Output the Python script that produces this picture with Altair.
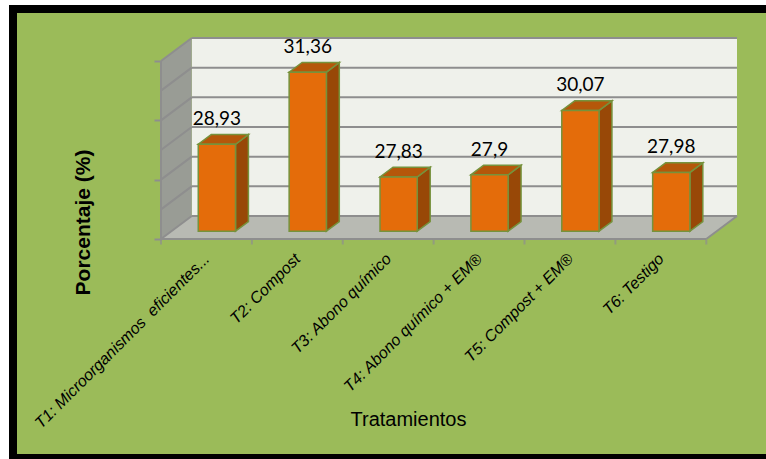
import json
import altair as alt
import pandas as pd

# ---- data ----
categories = [
    "T1: Microorganismos\u00a0 eficientes...",
    "T2: Compost",
    "T3: Abono químico",
    "T4: Abono químico + EM®",
    "T5: Compost + EM®",
    "T6: Testigo",
]
values = [28.93, 31.36, 27.83, 27.90, 30.07, 27.98]
value_labels = ["28,93", "31,36", "27,83", "27,9", "30,07", "27,98"]
y_min, y_max = 26, 32
y_ticks = [26, 27, 28, 29, 30, 31, 32]

# ---- 3D geometry (in data units) ----
N = len(categories)
DX = 0.338   # depth shift along x (category units)
DY = 0.775   # depth shift along y (value units)
D0, D1 = 0.34, 0.76   # bar front/back depth fractions
BW = 0.41              # bar face width
W, H = 576, 201

GREEN = "#9BBB59"
WALL = "#EFF1EB"
SIDE = "#999C95"
FLOOR = "#B8BAB3"
GRID = "#8E8E8E"
FRONT = "#E46C0A"
DARK = "#984807"
TOP = "#B5570A"
EDGE = "#76923C"

xs = alt.Scale(domain=[0, N + DX], nice=False, zero=False)
ys = alt.Scale(domain=[y_min, y_max + DY], nice=False, zero=False)

bars = pd.DataFrame({"cat": categories, "value": values, "i": range(N), "label": value_labels})
bars["xl"] = bars["i"] + (1 - BW) / 2 + D0 * DX
bars["xr"] = bars["xl"] + BW
bars["yb"] = y_min + D0 * DY
bars["yt"] = bars["value"] + D0 * DY
bars["xc"] = bars["i"] + 0.5 + D0 * DX

side_rows, top_rows = [], []
for _, r in bars.iterrows():
    for d in (D0, D1):
        s = (d - D0)
        side_rows.append({"id": r["i"], "x": r["xr"] + s * DX,
                          "y": y_min + d * DY, "y2": r["value"] + d * DY})
        top_rows.append({"id": r["i"], "y": r["value"] + d * DY,
                         "x": r["xl"] + s * DX, "x2": r["xr"] + s * DX})
side_df = pd.DataFrame(side_rows)
top_df = pd.DataFrame(top_rows)

# walls
back = pd.DataFrame({"x": [DX], "x2": [N + DX], "y": [y_min + DY], "y2": [y_max + DY]})
sidewall = pd.DataFrame({"x": [0, DX], "y": [y_min, y_min + DY], "y2": [y_max, y_max + DY]})
floor = pd.DataFrame({"y": [y_min, y_min + DY], "x": [0, DX], "x2": [N, N + DX]})

grid_back = pd.DataFrame({"x": DX, "x2": N + DX, "y": [t + DY for t in y_ticks]})
grid_diag = pd.DataFrame({"x": 0.0, "x2": DX, "y": y_ticks, "y2": [t + DY for t in y_ticks]})
edges = pd.DataFrame({
    "x": [0, 0, N],
    "x2": [0, N, N + DX],
    "y": [y_min, y_min, y_min],
    "y2": [y_max, y_min, y_min + DY],
})
xticks = pd.DataFrame({"x": list(range(N + 1)), "y": y_min})

labelExpr = json.dumps(categories, ensure_ascii=False) + "[floor(datum.value)]"

frame = alt.Chart(pd.DataFrame({"a": [0]})).mark_rect(
    fill=GREEN, stroke="black", strokeWidth=8
).encode(x=alt.value(-148), x2=alt.value(614), y=alt.value(-29), y2=alt.value(420))

xaxis = alt.Axis(values=[i + 0.5 for i in range(N)], labelExpr=labelExpr, labelAngle=-45,
                 labelAlign="right", labelBaseline="middle", labelFont="Liberation Sans",
                 labelFontStyle="italic", labelFontSize=16, labelColor="black", labelPadding=17,
                 labelLimit=0, ticks=False, domain=False, grid=False, labelOverlap=False,
                 labelFlush=False,
                 title="Tratamientos", titleFont="Liberation Sans", titleFontSize=20,
                 titleFontWeight="normal", titleColor="black", titleX=247, titleY=180,
                 titleAlign="center", titleBaseline="middle", titleAnchor="start", zindex=2)
yaxis = alt.Axis(values=y_ticks, labels=False, domain=False, grid=False, tickSize=7,
                 tickColor=GRID, tickWidth=2, title="Porcentaje (%)", titleFont="Liberation Sans",
                 titleFontSize=21, titleFontWeight="bold", titleColor="black", titleX=-78,
                 titleY=184, titleAngle=-90, titleAlign="center", titleBaseline="middle",
                 titleAnchor="start", zindex=2)

backwall = alt.Chart(back).mark_rect(fill=WALL).encode(
    x=alt.X("x:Q", scale=xs, axis=xaxis), x2="x2:Q",
    y=alt.Y("y:Q", scale=ys, axis=yaxis), y2="y2:Q")

side_w = alt.Chart(sidewall).mark_area(fill=SIDE, orient="vertical").encode(
    x=alt.X("x:Q", scale=xs), y=alt.Y("y:Q", scale=ys, stack=None), y2="y2:Q")

floor_m = alt.Chart(floor).mark_area(fill=FLOOR, orient="horizontal").encode(
    y=alt.Y("y:Q", scale=ys), x=alt.X("x:Q", scale=xs, stack=None), x2="x2:Q")

g1 = alt.Chart(grid_back).mark_rule(color=GRID, strokeWidth=2).encode(
    x=alt.X("x:Q", scale=xs), x2="x2:Q", y=alt.Y("y:Q", scale=ys))
g2 = alt.Chart(grid_diag).mark_rule(color=GRID, strokeWidth=2).encode(
    x=alt.X("x:Q", scale=xs), x2="x2:Q", y=alt.Y("y:Q", scale=ys), y2="y2:Q")
e1 = alt.Chart(edges).mark_rule(color=GRID, strokeWidth=2).encode(
    x=alt.X("x:Q", scale=xs), x2="x2:Q", y=alt.Y("y:Q", scale=ys), y2="y2:Q")
tk = alt.Chart(xticks).mark_tick(orient="vertical", color=GRID, size=5, thickness=2, yOffset=3).encode(
    x=alt.X("x:Q", scale=xs), y=alt.Y("y:Q", scale=ys))

side_f = alt.Chart(side_df).mark_area(fill=DARK, stroke=EDGE, strokeWidth=1.5, orient="vertical").encode(
    x=alt.X("x:Q", scale=xs), y=alt.Y("y:Q", scale=ys, stack=None), y2="y2:Q", detail="id:N")
top_f = alt.Chart(top_df).mark_area(fill=TOP, stroke=EDGE, strokeWidth=1.5, orient="horizontal").encode(
    y=alt.Y("y:Q", scale=ys), x=alt.X("x:Q", scale=xs, stack=None), x2="x2:Q", detail="id:N")
front_f = alt.Chart(bars).mark_rect(fill=FRONT, stroke=EDGE, strokeWidth=1.5).encode(
    x=alt.X("xl:Q", scale=xs), x2="xr:Q", y=alt.Y("yb:Q", scale=ys), y2="yt:Q")
labels = alt.Chart(bars).mark_text(font="Lato", fontSize=19, color="black", baseline="alphabetic",
                                   dy=-19).encode(
    x=alt.X("xc:Q", scale=xs), y=alt.Y("yt:Q", scale=ys), text="label:N")

chart = alt.layer(
    frame, backwall, side_w, floor_m, g1, g2, e1, tk, side_f, top_f, front_f, labels
).properties(
    width=W, height=H,
    autosize=alt.AutoSizeParams(type="none"),
    padding={"left": 161, "top": 38, "right": 29, "bottom": 220},
    background="white",
).configure_view(stroke=None)

chart.save("out.html", embed_options={"renderer": "svg", "actions": False})
